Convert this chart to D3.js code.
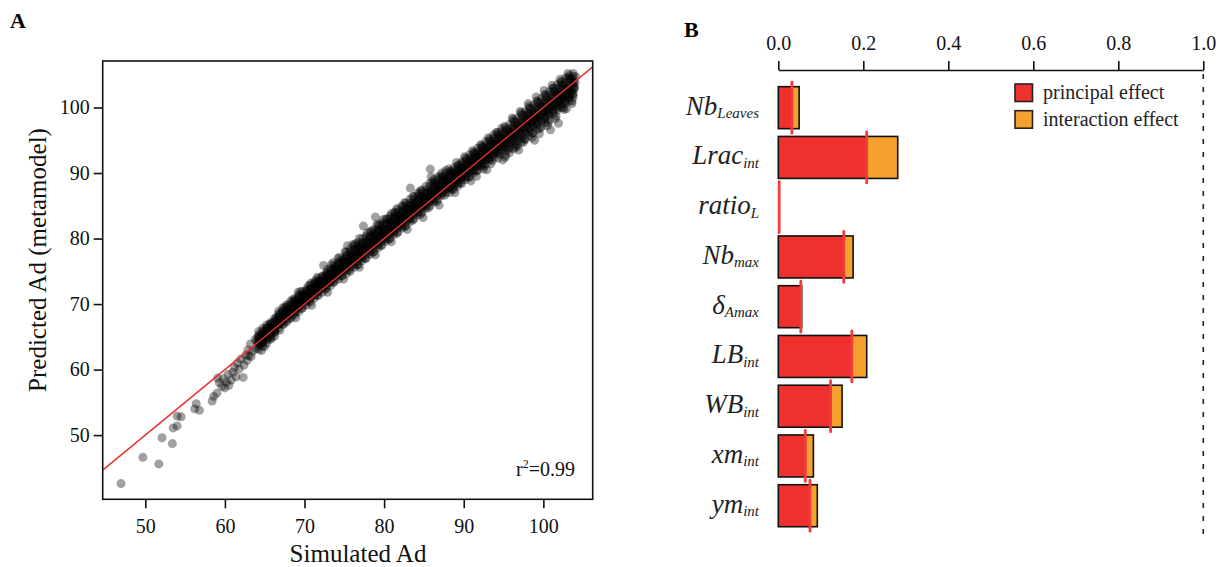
<!DOCTYPE html>
<html><head><meta charset="utf-8">
<script src="https://cdn.jsdelivr.net/npm/d3@7"></script>
<style>
body{margin:0;background:#fff}
svg{display:block;font-family:"Liberation Serif","Times New Roman",serif}
</style>
</head><body>
<svg id="c" width="1221" height="567"></svg>
<script>
// ---------- Panel A data ----------
const xTicksA = [50, 60, 70, 80, 90, 100];
const yTicksA = [50, 60, 70, 80, 90, 100];
const xTitleA = "Simulated Ad";
const yTitleA = "Predicted Ad (metamodel)";
const r2Value = "0.99";
// sparse low tail [simulated, predicted]
const tailPoints = [
 [46.95,42.6],[49.7,46.6],[51.7,45.6],[52.1,49.6],[53.4,48.7],[53.5,51.1],[54.0,51.4],[54.0,52.9],[54.5,52.8],
 [56.2,54.0],[56.4,54.8],[56.8,53.8],[58.4,55.2],[58.6,55.9],[59.0,56.4],[59.1,58.7],[59.3,58.0],[59.6,57.4],
 [59.8,58.6],[60.0,57.2],[60.2,58.1],[60.4,59.3],[60.5,57.6],[60.8,58.4],[61.0,59.6],[61.2,60.3],[61.4,58.9],
 [61.6,61.0],[61.8,60.1],[62.0,61.6],[62.3,58.8],[62.4,60.7],[62.6,62.2],[62.8,61.4],[63.3,62.0],[62.9,63.0]
];
// main cloud [simulated, predicted]
const cloudPoints = [
 [63.0,62.1],[63.2,63.9],[63.5,62.8],[63.8,64.6],[63.9,63.2],
 [64.1,64.9],[64.3,63.6],[64.5,65.4],[64.7,64.1],[64.9,65.8],[64.6,62.9],[64.0,64.3],
 [65.0,65.3],[65.2,66.4],[65.4,64.6],[65.6,66.9],[65.8,65.5],[65.9,64.9],[65.3,65.9],[65.0,63.5],
 [66.0,67.1],[66.2,66.3],[66.3,65.8],[66.5,67.6],[66.6,66.8],[66.8,68.2],[66.9,67.0],[66.4,67.9],
 [67.0,68.6],[67.1,67.4],[67.3,68.1],[67.4,66.9],[67.6,69.0],[67.7,68.3],[67.9,67.6],[67.5,69.5],[67.8,68.9],
 [68.0,69.8],[68.1,68.6],[68.3,69.4],[68.4,68.1],[68.6,70.3],[68.7,69.6],[68.9,68.8],[68.5,70.7],[68.8,70.1],
 [69.0,70.6],[69.1,69.5],[69.3,71.2],[69.4,70.1],[69.6,69.3],[69.7,71.5],[69.9,70.8],[69.5,70.4],[69.2,71.8],
 [70.0,71.3],[70.1,70.4],[70.3,72.0],[70.4,71.5],[70.6,70.5],[70.7,72.3],[70.9,71.6],[70.5,72.8],[70.2,71.0],
 [71.0,72.4],[71.2,71.5],[71.3,73.1],[71.5,72.6],[71.6,71.4],[71.8,73.4],[71.9,72.8],[71.4,73.6],[71.7,72.0],
 [72.0,73.5],[72.2,72.6],[72.3,74.2],[72.5,73.4],[72.6,72.3],[72.8,74.6],[72.9,73.8],[72.4,75.9],[72.7,73.0],
 [73.0,74.4],[73.2,73.4],[73.3,75.1],[73.5,74.6],[73.6,73.3],[73.8,75.6],[73.9,74.8],[73.4,76.0],[73.7,74.1],
 [74.0,75.6],[74.2,74.5],[74.3,76.2],[74.5,75.4],[74.6,74.3],[74.8,76.7],[74.9,75.9],[74.4,77.1],[74.7,75.1],
 [75.0,76.5],[75.2,75.5],[75.3,77.3],[75.5,76.6],[75.6,75.2],[75.8,77.8],[75.9,76.9],[75.4,78.9],[75.7,76.1],
 [76.0,77.5],[76.2,76.4],[76.3,78.3],[76.5,77.6],[76.6,76.0],[76.8,78.7],[76.9,77.9],[76.4,79.2],[76.7,77.1],
 [77.0,78.6],[77.2,77.3],[77.3,79.2],[77.5,78.4],[77.6,77.0],[77.8,79.6],[77.9,78.9],[77.4,81.9],[77.7,78.1],
 [78.0,79.5],[78.2,78.4],[78.3,80.3],[78.5,79.6],[78.6,77.9],[78.8,80.7],[78.9,79.9],[78.4,81.2],[78.9,83.3],[78.7,79.1],
 [79.0,80.4],[79.2,79.3],[79.3,81.2],[79.5,80.5],[79.6,78.9],[79.8,81.6],[79.9,80.8],[79.4,82.1],[79.7,80.0],
 [80.0,81.4],[80.2,80.3],[80.3,82.2],[80.5,81.6],[80.6,79.9],[80.8,82.6],[80.9,81.8],[80.4,83.0],[80.7,80.9],
 [81.0,82.4],[81.2,81.2],[81.3,83.2],[81.5,82.5],[81.6,80.8],[81.8,83.5],[81.9,82.7],[81.4,83.9],[81.7,81.9],
 [82.0,83.3],[82.2,82.2],[82.3,84.1],[82.5,83.5],[82.6,81.8],[82.8,84.5],[82.9,83.6],[82.4,84.9],[82.7,82.9],
 [83.0,84.3],[83.2,83.1],[83.3,85.1],[83.5,84.4],[83.6,82.8],[83.8,85.4],[83.9,84.6],[83.3,87.7],[83.7,83.8],
 [84.0,85.2],[84.2,84.1],[84.3,86.0],[84.5,85.3],[84.6,83.7],[84.8,86.3],[84.9,85.5],[84.4,86.8],[84.7,84.8],
 [85.0,86.1],[85.2,85.0],[85.3,86.9],[85.5,86.2],[85.6,84.7],[85.8,87.1],[85.9,86.4],[85.8,90.6],[85.9,89.4],[85.7,85.7],
 [86.0,87.0],[86.2,85.9],[86.3,87.8],[86.5,87.1],[86.6,85.6],[86.8,88.1],[86.9,87.3],[86.4,88.5],[86.7,86.6],
 [87.0,87.9],[87.2,86.9],[87.3,88.7],[87.5,88.0],[87.6,86.6],[87.8,89.0],[87.9,88.2],[87.4,89.4],[87.7,87.5],
 [88.0,88.9],[88.2,87.8],[88.3,89.6],[88.5,88.9],[88.6,87.6],[88.8,89.9],[88.9,89.1],[88.4,90.3],[88.7,88.4],
 [89.0,89.8],[89.2,88.7],[89.3,90.5],[89.5,89.8],[89.6,88.5],[89.8,90.8],[89.9,90.0],[89.4,91.2],[89.7,89.3],
 [90.0,90.7],[90.2,89.6],[90.3,91.4],[90.5,90.7],[90.6,89.4],[90.8,91.7],[90.9,90.9],[90.4,92.1],[90.7,90.2],
 [91.0,91.6],[91.2,90.4],[91.3,92.3],[91.5,91.5],[91.6,90.3],[91.8,92.6],[91.9,91.8],[91.4,93.0],[91.7,91.1],[91.6,89.5],
 [92.0,92.5],[92.2,91.3],[92.3,93.2],[92.5,92.4],[92.6,91.1],[92.8,93.5],[92.9,92.7],[92.4,93.9],[92.7,92.0],[92.5,90.6],
 [93.0,93.4],[93.2,92.2],[93.3,94.1],[93.5,93.3],[93.6,91.9],[93.8,94.4],[93.9,93.6],[93.4,94.8],[93.7,92.8],[93.4,91.4],
 [94.0,94.3],[94.2,93.1],[94.3,95.0],[94.5,94.2],[94.6,92.8],[94.8,95.3],[94.9,94.5],[94.4,95.6],[94.7,93.7],[94.3,92.3],
 [95.0,95.2],[95.2,94.0],[95.3,95.9],[95.5,95.1],[95.6,93.6],[95.8,96.2],[95.9,95.4],[95.4,96.6],[95.7,94.6],[95.2,92.4],
 [96.0,96.1],[96.2,94.9],[96.3,96.8],[96.5,96.0],[96.6,94.4],[96.8,97.2],[96.9,96.4],[96.4,97.8],[96.7,95.5],[96.2,98.2],[96.5,93.9],
 [97.0,97.0],[97.2,95.8],[97.3,97.7],[97.5,96.9],[97.6,95.2],[97.8,98.2],[97.9,97.3],[97.4,98.8],[97.7,96.3],[97.2,99.2],[97.5,94.7],
 [98.0,98.0],[98.2,96.7],[98.3,98.6],[98.5,97.8],[98.6,96.1],[98.8,99.2],[98.9,98.3],[98.4,99.8],[98.7,97.2],[98.2,100.2],[98.6,95.4],[98.1,99.1],
 [99.0,99.0],[99.2,97.6],[99.3,99.6],[99.5,98.7],[99.6,96.8],[99.8,100.1],[99.9,99.2],[99.4,100.7],[99.7,98.1],[99.2,101.0],[99.5,96.0],[99.1,98.4],
 [100.0,100.0],[100.2,98.5],[100.3,100.6],[100.5,99.6],[100.6,97.7],[100.8,101.0],[100.9,100.1],[100.4,101.6],[100.7,99.0],[100.2,102.0],[100.5,97.2],[100.1,99.3],
 [101.0,100.9],[101.2,99.4],[101.3,101.5],[101.5,100.5],[101.6,98.7],[101.8,102.0],[101.9,101.0],[101.4,102.5],[101.7,99.9],[101.2,102.9],[101.5,98.3],[101.1,100.2],
 [102.0,101.9],[102.2,100.4],[102.3,102.4],[102.5,101.4],[102.6,99.7],[102.8,102.9],[102.9,101.9],[102.4,103.4],[102.7,100.9],[102.2,103.8],[102.5,100.0],[102.1,101.2],
 [103.0,102.8],[103.2,101.4],[103.3,103.4],[103.5,102.4],[103.6,101.0],[103.8,103.9],[103.9,102.9],[103.4,104.4],[103.7,102.0],[103.1,104.6],[103.3,102.0],
 [104.0,103.8],[104.1,104.7],[103.9,103.1]
];
// fringe points along the upper and lower edges of the cloud
const edgePoints = [
 [69.5,71.9],[70.8,73.2],[71.6,74.1],[72.9,75.3],[73.6,76.3],[74.2,77.0],[75.1,78.0],[76.1,79.1],[76.9,80.0],[77.9,80.9],
 [79.1,82.2],[79.9,82.9],[80.9,83.8],[81.6,84.6],[82.6,85.5],[83.6,86.4],[84.6,87.3],[86.1,88.7],[87.1,89.6],[88.1,90.6],
 [89.1,91.6],[90.1,92.5],[91.1,93.4],[92.1,94.3],[93.1,95.4],[94.1,96.2],[95.1,97.1],[96.1,98.4],[97.1,99.4],[98.1,100.6],
 [99.1,101.6],[100.1,102.6],[101.1,103.4],[102.1,104.3],[103.1,105.2],
 [66.9,66.0],[68.9,67.9],[70.9,69.8],[72.9,71.8],[74.9,73.8],[76.9,75.6],[78.9,77.5],[80.9,79.5],[82.9,81.4],[84.9,83.2],
 [86.9,85.1],[88.9,87.0],[90.9,88.8],[92.9,90.5],[94.9,92.0],[96.9,93.5],[98.9,95.0],[100.9,96.6],[101.9,97.6],[102.9,99.8],[103.6,100.6]
];
// dense core: each row = [simulated, predicted values at that simulated value...]
const coreRows = [
 [64.25,63.1,63.8,64.2,64.6,65.0,65.3,65.8,64.0],
 [64.75,63.6,64.1,64.7,65.1,65.4,65.9,66.3,64.5],
 [65.25,64.0,64.7,65.1,65.6,66.0,66.3,66.8,64.9],
 [65.75,64.6,65.1,65.7,66.0,66.5,66.9,67.2,65.5],
 [66.25,65.1,65.7,66.1,66.6,66.9,67.4,67.8,66.0],
 [66.75,66.3,66.9,67.2,67.7,68.0,68.5,68.9,67.5],
 [67.25,66.9,67.3,67.8,68.1,68.6,69.0,69.4,68.0],
 [67.75,67.3,67.9,68.2,68.7,69.0,69.5,69.9,68.4],
 [68.25,67.8,68.4,68.8,69.1,69.6,69.9,70.4,69.0],
 [68.75,68.4,68.8,69.3,69.7,70.0,70.5,70.8,69.4],
 [69.25,68.8,69.4,69.7,70.2,70.6,70.9,71.4,70.0],
 [69.75,69.4,69.8,70.3,70.6,71.1,71.4,71.9,70.4],
 [70.25,69.8,70.4,70.7,71.2,71.5,72.0,72.3,70.9],
 [70.75,70.3,70.9,71.3,71.6,72.1,72.4,72.9,71.5],
 [71.25,70.9,71.3,71.8,72.2,72.5,73.0,73.3,71.9],
 [71.75,71.3,71.9,72.2,72.7,73.1,73.4,73.9,72.4],
 [72.25,71.8,72.4,72.8,73.1,73.6,74.0,74.3,73.0],
 [72.75,72.4,72.8,73.3,73.7,74.0,74.5,74.8,73.4],
 [73.25,72.8,73.4,73.7,74.2,74.6,74.9,75.4,74.0],
 [73.75,73.4,73.8,74.3,74.6,75.1,75.4,75.9,74.4],
 [74.25,73.8,74.4,74.8,75.2,75.5,76.0,76.4,74.9],
 [74.75,74.3,74.9,75.3,75.6,76.1,76.5,76.9,75.5],
 [75.25,74.6,75.1,75.6,76.0,76.5,76.9,77.4,77.9],
 [75.75,75.0,75.6,76.0,76.6,77.0,77.4,78.0,78.4],
 [76.25,75.6,76.0,76.6,77.0,77.5,78.0,78.4,78.9],
 [76.75,76.0,76.6,77.0,77.6,78.0,78.4,79.0,79.4],
 [77.25,76.6,77.0,77.6,78.0,78.4,79.0,79.4,80.0],
 [77.75,77.0,77.6,78.0,78.6,79.0,79.4,80.0,80.4],
 [78.25,77.6,78.0,78.6,79.0,79.4,80.0,80.4,81.0],
 [78.75,78.0,78.6,79.0,79.6,80.0,80.4,81.0,81.4],
 [79.25,78.6,79.0,79.6,80.0,80.4,81.0,81.4,82.0],
 [79.75,79.0,79.6,80.0,80.6,81.0,81.4,82.0,82.4],
 [80.25,79.6,80.0,80.6,81.0,81.4,82.0,82.4,83.0],
 [80.75,80.0,80.6,81.0,81.6,82.0,82.4,83.0,83.4],
 [81.25,80.6,81.0,81.6,82.0,82.4,83.0,83.4,84.0],
 [81.75,81.0,81.6,82.0,82.6,83.0,83.4,84.0,84.4],
 [82.25,81.6,82.0,82.6,83.0,83.4,84.0,84.4,85.0],
 [82.75,82.0,82.6,83.0,83.6,84.0,84.4,85.0,85.4],
 [83.25,82.6,83.0,83.6,84.0,84.4,85.0,85.4,86.0],
 [83.75,83.0,83.6,84.0,84.6,85.0,85.4,86.0,86.4],
 [84.25,83.6,84.0,84.6,85.0,85.4,86.0,86.4,87.0],
 [84.75,84.0,84.6,85.0,85.6,86.0,86.4,87.0,87.4],
 [85.25,84.6,85.0,85.6,86.0,86.4,87.0,87.4,88.0],
 [85.75,85.0,85.6,86.0,86.6,87.0,87.4,88.0,88.4],
 [86.25,85.6,86.0,86.6,87.0,87.4,88.0,88.4,89.0],
 [86.75,86.0,86.6,87.0,87.6,88.0,88.4,89.0,89.4],
 [87.25,86.6,87.0,87.6,88.0,88.4,89.0,89.4,90.0],
 [87.75,87.0,87.6,88.0,88.6,89.0,89.4,90.0,90.4],
 [88.25,87.0,87.5,88.0,88.5,88.8,89.4,89.9,90.2],
 [88.75,87.5,88.0,88.4,89.0,89.3,89.9,90.3,90.8],
 [89.25,88.0,88.4,89.0,89.4,89.9,90.3,90.8,91.2],
 [89.75,88.4,89.0,89.4,90.0,90.3,90.8,91.4,91.7],
 [90.25,89.0,89.4,90.0,90.4,90.9,91.3,91.8,92.3],
 [90.75,89.4,90.0,90.4,91.0,91.3,91.9,92.3,92.8],
 [91.25,90.0,90.4,91.0,91.4,91.9,92.3,92.9,93.2],
 [91.75,90.4,91.0,91.4,92.0,92.3,92.9,93.3,93.8],
 [92.25,91.0,91.4,92.0,92.4,92.9,93.3,93.9,94.2],
 [92.75,91.4,92.0,92.4,93.0,93.3,93.9,94.3,94.8],
 [93.25,92.0,92.4,93.0,93.4,93.9,94.3,94.9,95.2],
 [93.75,92.4,93.0,93.4,94.0,94.3,94.9,95.3,95.8],
 [94.25,93.0,93.4,94.0,94.4,94.9,95.3,95.9,96.2],
 [94.75,93.4,94.0,94.4,95.0,95.3,95.9,96.3,96.8],
 [95.25,92.7,93.4,94.0,94.6,95.0,95.7,96.3,96.9],
 [95.75,93.1,93.9,94.5,95.0,95.6,96.1,96.8,97.4],
 [96.25,93.7,94.3,95.0,95.6,96.0,96.7,97.2,97.9],
 [96.75,94.1,94.9,95.4,96.0,96.6,97.1,97.8,98.4],
 [97.25,94.7,95.3,96.0,96.6,97.0,97.7,98.2,98.9],
 [97.75,95.1,95.9,96.4,97.0,97.6,98.1,98.8,99.4],
 [98.25,95.7,96.3,97.0,97.6,98.0,98.7,99.2,99.9],
 [98.75,96.1,96.9,97.4,98.0,98.6,99.1,99.8,100.4],
 [99.25,96.7,97.3,98.0,98.6,99.0,99.7,100.2,100.9],
 [99.75,97.1,97.9,98.4,99.0,99.6,100.1,100.8,101.4],
 [100.25,97.7,98.3,99.0,99.6,100.0,100.7,101.2,101.9],
 [100.75,98.1,98.9,99.4,100.0,100.6,101.1,101.8,102.4],
 [101.25,99.0,99.7,100.3,100.8,101.3,101.9,102.5,103.0],
 [101.75,99.6,100.2,100.7,101.3,101.8,102.3,102.9,103.5],
 [102.25,100.0,100.7,101.3,101.8,102.2,102.9,103.4,104.0],
 [102.75,100.6,101.1,101.7,102.3,102.8,103.3,103.9,104.5],
 [103.25,101.0,101.7,102.3,102.7,103.3,103.9,104.4,104.9],
 [103.75,101.6,102.1,102.8,103.3,103.7,104.3,104.8,105.2]
];

// ---------- Panel B data ----------
const varMain = ["Nb", "Lrac", "ratio", "Nb", "δ", "LB", "WB", "xm", "ym"];
const varSub  = ["Leaves", "int", "L", "max", "Amax", "int", "int", "int", "int"];
const principalEffect = [0.032, 0.208, 0.002, 0.154, 0.053, 0.173, 0.123, 0.0635, 0.0746];
const totalEffect     = [0.049, 0.281, 0.000, 0.176, 0.055, 0.208, 0.150, 0.0826, 0.0918];
const xTicksB = [0, 0.2, 0.4, 0.6, 0.8, 1.0];
const referenceValue = 1.0;
const legendLabels = ["principal effect", "interaction effect"];

const RED = "#ee312c", ORANGE = "#f6a12d", MARK = "#f23b3b";
const svg = d3.select("#c");

// ================= Panel A =================
const xA = d3.scaleLinear().domain([44.65, 106.2]).range([102.7, 592.7]);
const yA = d3.scaleLinear().domain([40.2, 107.1]).range([499.3, 61]);

svg.append("text").attr("x", 10).attr("y", 28).attr("font-size", 22).attr("font-weight", "bold").text("A");

const gA = svg.append("g");
const corePts = coreRows.flatMap(r => r.slice(1).map(v => [r[0], v]));
const allPts = tailPoints.concat(edgePoints, cloudPoints, corePts);
gA.append("g").selectAll("circle").data(allPts).join("circle")
  .attr("cx", d => xA(d[0])).attr("cy", d => yA(d[1])).attr("r", 4.5)
  .attr("fill", "#000").attr("fill-opacity", 0.37);

const dom = xA.domain();
gA.append("line")
  .attr("x1", xA(dom[0])).attr("y1", yA(dom[0]))
  .attr("x2", xA(dom[1])).attr("y2", yA(dom[1]))
  .attr("stroke", "#e8302a").attr("stroke-width", 1.4);

gA.append("rect").attr("x", xA.range()[0]).attr("y", yA.range()[1])
  .attr("width", xA.range()[1] - xA.range()[0]).attr("height", yA.range()[0] - yA.range()[1])
  .attr("fill", "none").attr("stroke", "#111").attr("stroke-width", 1.6);

const axB = svg.append("g").attr("transform", `translate(0,${yA.range()[0]})`)
  .call(d3.axisBottom(xA).tickValues(xTicksA).tickSize(9).tickSizeOuter(0).tickPadding(10.5));
const axL = svg.append("g").attr("transform", `translate(${xA.range()[0]},0)`)
  .call(d3.axisLeft(yA).tickValues(yTicksA).tickSize(9).tickSizeOuter(0).tickPadding(4));
[axB, axL].forEach(a => {
  a.select(".domain").remove();
  a.selectAll("line").attr("stroke", "#111").attr("stroke-width", 1.6);
  a.selectAll("text").attr("font-size", 20).attr("fill", "#111")
    .attr("font-family", '"Liberation Serif","Times New Roman",serif');
});

svg.append("text").attr("x", 358).attr("y", 562).attr("text-anchor", "middle")
  .attr("font-size", 25).attr("fill", "#111").text(xTitleA);
svg.append("text").attr("transform", "translate(46,260) rotate(-90)").attr("text-anchor", "middle")
  .attr("font-size", 25).attr("fill", "#111").text(yTitleA);

const r2 = svg.append("text").attr("x", 575).attr("y", 476).attr("text-anchor", "end")
  .attr("font-size", 20).attr("fill", "#111");
r2.append("tspan").text("r");
r2.append("tspan").attr("dy", -8).attr("font-size", 12).text("2");
r2.append("tspan").attr("dy", 8).text("=" + r2Value);

// ================= Panel B =================
svg.append("text").attr("x", 684).attr("y", 37).attr("font-size", 22).attr("font-weight", "bold").text("B");

const idx = d3.range(varMain.length);
const xB = d3.scaleLinear().domain([0, 1]).range([778.3, 1203.3]);
const yB = d3.scaleBand().domain(idx).range([82.8, 530.6]).paddingInner(0.156).paddingOuter(0.078);
const axisY = 70;

const axT = svg.append("g").attr("transform", `translate(0,${axisY})`)
  .call(d3.axisTop(xB).tickValues(xTicksB).tickFormat(d3.format(".1f")).tickSize(9).tickSizeOuter(0).tickPadding(11));
axT.select(".domain").attr("stroke", "#111").attr("stroke-width", 1.6);
axT.selectAll("line").attr("stroke", "#111").attr("stroke-width", 1.6);
axT.selectAll("text").attr("font-size", 20).attr("fill", "#111")
  .attr("font-family", '"Liberation Serif","Times New Roman",serif');

svg.append("line").attr("x1", xB(referenceValue)).attr("x2", xB(referenceValue))
  .attr("y1", axisY + 4).attr("y2", 535)
  .attr("stroke", "#222").attr("stroke-width", 1.6).attr("stroke-dasharray", "5,8");

const bw = yB.bandwidth();
const withBar = idx.filter(i => totalEffect[i] > 0);
const gBars = svg.append("g");
gBars.selectAll("rect.tot").data(withBar).join("rect").attr("class", "tot")
  .attr("x", xB(0)).attr("y", i => yB(i)).attr("width", i => xB(totalEffect[i]) - xB(0)).attr("height", bw)
  .attr("fill", ORANGE);
gBars.selectAll("rect.pri").data(withBar).join("rect").attr("class", "pri")
  .attr("x", xB(0)).attr("y", i => yB(i)).attr("width", i => xB(principalEffect[i]) - xB(0)).attr("height", bw)
  .attr("fill", RED);
gBars.selectAll("rect.out").data(withBar).join("rect").attr("class", "out")
  .attr("x", xB(0)).attr("y", i => yB(i)).attr("width", i => xB(totalEffect[i]) - xB(0)).attr("height", bw)
  .attr("fill", "none").attr("stroke", "#111").attr("stroke-width", 1.6);
gBars.selectAll("line.mk").data(idx).join("line").attr("class", "mk")
  .attr("x1", i => xB(principalEffect[i])).attr("x2", i => xB(principalEffect[i]))
  .attr("y1", i => yB(i) - 4.5).attr("y2", i => yB(i) + bw + 4.5)
  .attr("stroke", MARK).attr("stroke-width", 2.8).attr("stroke-linecap", "round");

const labs = svg.append("g").selectAll("text").data(idx).join("text")
  .attr("x", 759).attr("y", i => yB(i) + bw / 2 + 7).attr("text-anchor", "end")
  .attr("font-style", "italic").attr("fill", "#222");
labs.append("tspan").attr("font-size", 27).text(i => varMain[i]);
labs.append("tspan").attr("font-size", 15).attr("dy", 3.5).text(i => varSub[i]);

// legend
const legColors = [RED, ORANGE];
const lg = svg.append("g");
legendLabels.forEach((t, k) => {
  const yy = 84 + k * 26.7;
  lg.append("rect").attr("x", 1015).attr("y", yy).attr("width", 17.5).attr("height", 17.5)
    .attr("fill", legColors[k]).attr("stroke", "#222").attr("stroke-width", 1.6);
  lg.append("text").attr("x", 1043).attr("y", yy + 15).attr("font-size", 20).attr("fill", "#222").text(t);
});
</script>
</body></html>
